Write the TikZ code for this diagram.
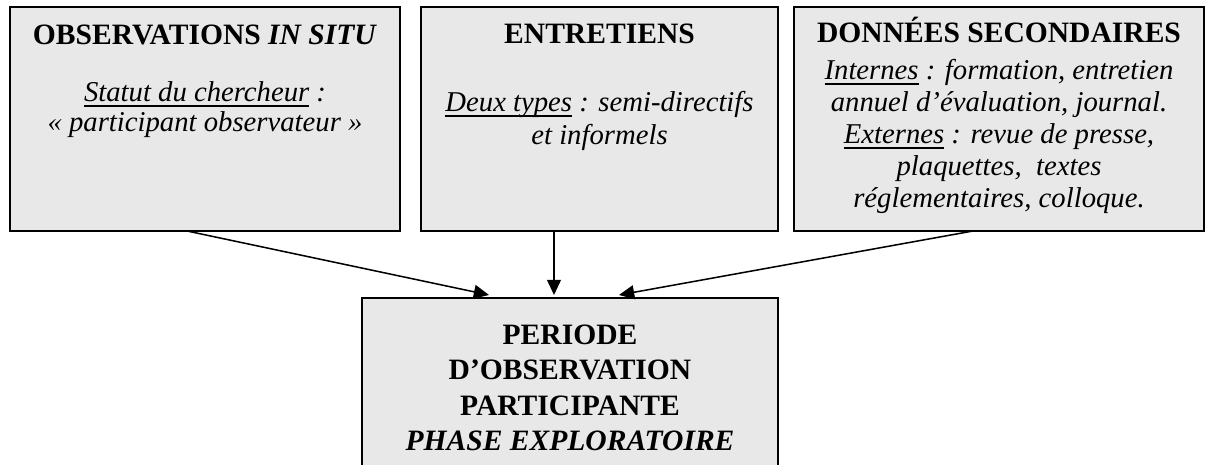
\documentclass[tikz,border=0pt]{standalone}
\usepackage{fontspec}
\setmainfont{Liberation Serif}
\usetikzlibrary{arrows.meta,fit}
\definecolor{boxgray}{RGB}{232,232,232}
\newlength\ulwidth
\newcommand\ulx[1]{\settowidth\ulwidth{#1}\rlap{\rule[-2.4pt]{\ulwidth}{0.85pt}}#1}
\tikzset{
  box/.style={draw=black, fill=boxgray, line width=0.9pt, inner sep=0pt},
  ttl/.style={anchor=base, font=\fontsize{13.6}{16}\selectfont\bfseries, inner sep=0pt},
  txt/.style={anchor=base, font=\fontsize{13.2}{15}\selectfont\itshape, inner sep=0pt},
  arr/.style={line width=0.7pt, -{Triangle[length=7pt,width=6.4pt]}}
}
\begin{document}
\begin{tikzpicture}[x=0.46pt,y=-0.46pt]
\useasboundingbox (0,0) rectangle (1208,465);
\clip (0,0) rectangle (1208,465);
\fill[white] (0,0) rectangle (1208,465);
% boxes
\node[box, fit={(10,7) (400,231)}] (obs) {};
\node[box, fit={(421,7) (778,231)}] (ent) {};
\node[box, fit={(794,7) (1204,231)}] (don) {};
\node[box, fit={(362,298) (778,490)}] (per) {};
% left box text
\node[ttl] (obsT) at (205,45) {OBSERVATIONS \textit{IN SITU}};
\node[txt] (obs1) at (205,102) {\ulx{Statut du chercheur} :};
\node[txt] (obs2) at (205,132) {« participant observateur »};
% middle box text
\node[ttl] (entT) at (599.5,44) {ENTRETIENS};
\node[txt] (ent1) at (599.5,112) {\ulx{Deux types} : semi-directifs};
\node[txt] (ent2) at (599.5,145) {et informels};
% right box text
\node[ttl] (donT) at (999,43) {DONNÉES SECONDAIRES};
\node[txt] (don1) at (999,80) {\ulx{Internes} : formation, entretien};
\node[txt] (don2) at (999,112) {annuel d’évaluation, journal.};
\node[txt] (don3) at (999,144) {\ulx{Externes} : revue de presse,};
\node[txt] (don4) at (999,176) {plaquettes,\ \ textes};
\node[txt] (don5) at (999,208) {réglementaires, colloque.};
% bottom box text
\node[ttl] (per1) at (570,345) {PERIODE};
\node[ttl] (per2) at (570,380) {D’OBSERVATION};
\node[ttl] (per3) at (570,416) {PARTICIPANTE};
\node[ttl] (per4) at (570,451) {\textit{PHASE EXPLORATOIRE}};
% connector ends
\coordinate (s1) at (187,231);
\coordinate (s2) at (554,231);
\coordinate (s3) at (973,231);
\coordinate (e1) at (489,295);
\coordinate (e2) at (554,295);
\coordinate (e3) at (619,295);
\draw[arr] (s1) -- (e1);
\draw[arr] (s2) -- (e2);
\draw[arr] (s3) -- (e3);
\end{tikzpicture}
\end{document}
